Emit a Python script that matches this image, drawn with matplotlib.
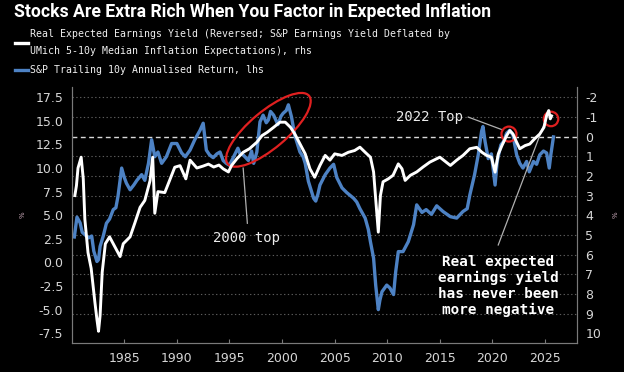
import matplotlib
matplotlib.use("Agg")
import matplotlib.pyplot as plt
import matplotlib.transforms as mtransforms
from matplotlib.patches import Ellipse
from matplotlib.lines import Line2D

# ---------------- data ----------------
blue_years = [1980.25, 1980.5, 1980.8, 1981.0, 1981.3, 1981.6, 1981.9, 1982.1, 1982.4, 1982.55,
              1982.7, 1983.0, 1983.3, 1983.6, 1983.95, 1984.2, 1984.4, 1984.75, 1985.0, 1985.2,
              1985.55, 1985.9, 1986.2, 1986.65, 1986.95, 1987.3, 1987.6, 1987.9, 1988.2, 1988.55,
              1989.0, 1989.5, 1990.0, 1990.45, 1990.8, 1991.25, 1991.7, 1992.2, 1992.5, 1992.8,
              1993.1, 1993.45, 1993.8, 1994.1, 1994.4, 1994.7, 1995.0, 1995.35, 1995.8, 1996.0,
              1996.3, 1996.8, 1997.1, 1997.3, 1997.6, 1997.9, 1998.2, 1998.5, 1998.7, 1998.9,
              1999.2, 1999.6, 1999.9, 2000.1, 2000.4, 2000.6, 2000.9, 2001.2, 2001.5, 2001.7,
              2002.0, 2002.2, 2002.5, 2002.8, 2003.0, 2003.2, 2003.4, 2003.6, 2004.1, 2004.55,
              2004.9, 2005.2, 2005.7, 2006.15, 2006.8, 2007.1, 2007.4, 2007.9, 2008.2, 2008.4,
              2008.7, 2008.9, 2009.15, 2009.3, 2009.5, 2009.95, 2010.25, 2010.6, 2010.8, 2011.05,
              2011.5, 2012.0, 2012.5, 2012.8, 2013.3, 2013.7, 2014.2, 2014.7, 2015.3, 2016.0,
              2016.6, 2017.2, 2017.6, 2017.85, 2018.3, 2018.65, 2018.97, 2019.1, 2019.3, 2019.6,
              2019.9, 2020.25, 2020.45, 2020.8, 2021.05, 2021.35, 2021.65, 2021.95, 2022.3, 2022.6,
              2022.9, 2023.25, 2023.5, 2023.9, 2024.2, 2024.5, 2024.85, 2025.15, 2025.4, 2025.55,
              2025.8]
blue_vals = [2.7, 4.8, 4.2, 3.2, 2.9, 2.6, 2.8, 1.2, 0.1, 0.3,
             1.7, 2.8, 4.15, 4.6, 5.6, 5.8, 7.0, 10.0, 9.0, 8.4,
             7.7, 8.2, 8.7, 9.3, 8.7, 10.5, 13.0, 11.2, 11.7, 10.5,
             11.2, 12.6, 12.6, 11.6, 11.2, 11.9, 13.0, 14.0, 14.75, 11.9,
             11.4, 11.1, 11.5, 11.7, 10.8, 10.5, 10.3, 11.1, 12.1, 11.5,
             11.4, 10.8, 11.8, 10.5, 11.7, 14.9, 15.6, 14.8, 15.1, 16.0,
             15.6, 14.6, 15.5, 15.8, 16.1, 16.7, 15.4, 13.5, 12.4, 11.7,
             11.2, 10.5, 8.6, 7.5, 6.8, 6.5, 7.2, 8.2, 9.3, 10.0,
             10.4, 9.0, 7.9, 7.4, 6.8, 6.4, 5.7, 4.7, 3.5, 2.2,
             0.45, -2.4, -5.0, -4.0, -3.1, -2.4, -2.7, -3.4, -1.0, 1.15,
             1.15, 2.2, 4.0, 6.1, 5.3, 5.6, 5.1, 6.0, 5.4, 4.85,
             4.7, 5.4, 5.7, 7.15, 9.3, 11.4, 13.9, 14.4, 12.8, 11.0,
             11.5, 8.2, 10.7, 12.45, 12.8, 13.7, 14.0, 13.5, 11.4, 10.5,
             10.0, 10.7, 9.6, 10.7, 10.4, 11.4, 11.8, 11.6, 10.0, 11.4,
             13.3]

white_years = [1980.3, 1980.45, 1980.6, 1980.9, 1981.1, 1981.25, 1981.55, 1981.85, 1982.2, 1982.4,
               1982.55, 1982.7, 1982.9, 1983.2, 1983.6, 1984.1, 1984.6, 1984.9, 1985.55, 1986.0,
               1986.5, 1986.95, 1987.45, 1987.7, 1987.9, 1988.2, 1988.85, 1989.3, 1989.8, 1990.3,
               1990.85, 1991.25, 1991.9, 1992.5, 1993.0, 1993.5, 1994.0, 1994.4, 1994.9,
               1995.2, 1995.7, 1996.3, 1996.9, 1997.6, 1998.1, 1998.6, 1999.2, 1999.8, 2000.3,
               2000.8, 2001.2, 2001.7, 2002.2, 2002.65, 2003.1, 2003.6, 2004.1, 2004.55, 2005.0,
               2005.7, 2006.3, 2006.9, 2007.4, 2007.9, 2008.4, 2008.7, 2008.9, 2009.15, 2009.35,
               2009.6, 2010.1, 2010.55, 2011.05, 2011.4, 2011.7, 2012.2, 2012.8, 2013.4, 2014.05,
               2015.0, 2016.0, 2016.6, 2017.2, 2017.85, 2018.5, 2019.0, 2019.45, 2019.9, 2020.25,
               2020.55, 2020.9, 2021.35, 2021.65, 2021.95, 2022.3, 2022.6, 2023.1, 2023.55, 2024.0,
               2024.5, 2024.9, 2025.15, 2025.35, 2025.5, 2025.62]
white_vals = [3.0, 2.5, 1.6, 1.05, 2.15, 4.2, 5.9, 6.7, 8.4, 9.3,
              9.9, 9.1, 6.9, 5.45, 5.1, 5.6, 6.1, 5.45, 5.1, 4.4,
              3.6, 3.25, 2.24, 1.05, 3.9, 2.8, 2.85, 2.24, 1.56, 1.48,
              2.15, 1.2, 1.6, 1.5, 1.4, 1.55, 1.45, 1.64, 1.8,
              1.47, 1.13, 0.8, 0.62, 0.29, -0.05, -0.22, -0.47, -0.73, -0.73,
              -0.47, -0.14, 0.37, 0.88, 1.64, 2.07, 1.47, 0.96, 1.2, 0.88,
              0.96, 0.8, 0.71, 0.54, 0.8, 1.05, 1.8, 3.17, 4.86, 3.0,
              2.3, 2.15, 1.97, 1.39, 1.64, 2.23, 1.97, 1.8, 1.55, 1.3,
              1.05, 1.47, 1.2, 0.96, 0.62, 0.55, 0.8, 0.96, 1.05, 1.81,
              0.9, 0.46, -0.05, -0.3, -0.13, 0.29, 0.62, 0.46, 0.38, 0.12,
              -0.13, -0.47, -1.07, -1.32, -0.9, -1.05]

x_ticks = [1985, 1990, 1995, 2000, 2005, 2010, 2015, 2020, 2025]
left_ticks = [-7.5, -5.0, -2.5, 0.0, 2.5, 5.0, 7.5, 10.0, 12.5, 15.0, 17.5]
right_ticks = list(range(-2, 11))

title = "Stocks Are Extra Rich When You Factor in Expected Inflation"
legend_white_1 = "Real Expected Earnings Yield (Reversed; S&P Earnings Yield Deflated by"
legend_white_2 = "UMich 5-10y Median Inflation Expectations), rhs"
legend_blue = "S&P Trailing 10y Annualised Return, lhs"

# ---------------- style ----------------
BG = "#000000"
BLUE = "#4d82c4"
WHITE = "#ffffff"
TICKC = "#d6d6d6"
SPINEC = "#7a7a7a"
MONO = ["DejaVu Sans Mono"]

fig = plt.figure(figsize=(6.24, 3.72), dpi=100, facecolor=BG)
ax = fig.add_axes([0.1149, 0.0788, 0.8098, 0.6874])
ax.set_facecolor(BG)
ax2 = ax.twinx()
ax2.patch.set_visible(False)

LMIN, LMAX = -8.5, 18.59
RTOP, RBOT = -2.52, 10.48
ax.set_xlim(1980.0, 2028.04)
ax.set_ylim(LMIN, LMAX)
ax2.set_ylim(RBOT, RTOP)

def r_to_l(r):
    return LMAX - (r - RTOP) * (LMAX - LMIN) / (RBOT - RTOP)

# grid at right-axis ticks, drawn on primary axis (behind lines)
ax.set_yticks([r_to_l(r) for r in right_ticks if r != 0], minor=True)
ax.grid(which="minor", axis="y", color="#5c5c5c", linestyle=(0, (1.2, 2.2)), linewidth=0.8)
ax.tick_params(axis="y", which="minor", length=0)
ax.axhline(r_to_l(0), color="#d8d8d8", linestyle=(0, (3.5, 2.5)), linewidth=1.0, zorder=1)

ax.plot(blue_years, blue_vals, color=BLUE, linewidth=2.4, solid_joinstyle="round", zorder=2)
ax2.plot(white_years, white_vals, color=WHITE, linewidth=2.1, solid_joinstyle="round", zorder=3)

ax.set_xticks(x_ticks)
ax.set_yticks(left_ticks)
ax.set_yticklabels([f"{v:.1f}" for v in left_ticks])
ax2.set_yticks(right_ticks)
ax2.set_yticklabels([str(v) for v in right_ticks])

for a in (ax, ax2):
    for s in a.spines.values():
        s.set_color(SPINEC)
        s.set_linewidth(0.8)
    a.spines["top"].set_visible(False)
ax.tick_params(axis="x", colors=TICKC, labelsize=9, length=3, direction="in", pad=7, color=SPINEC)
ax.tick_params(axis="y", which="major", colors=TICKC, labelsize=9, length=0, pad=6)
ax2.tick_params(axis="y", colors=TICKC, labelsize=9, length=0, pad=6)

ax.set_ylabel("%", color="#c9a9b9", fontsize=5, labelpad=7)
ax2.set_ylabel("%", color="#c9a9b9", fontsize=5, labelpad=8, rotation=90)

# ---------------- annotations ----------------
ANNC = "#b0b0b0"
etrans = fig.dpi_scale_trans + mtransforms.ScaledTranslation(1998.7, 14.05, ax.transData)
ax.add_patch(Ellipse((0, 0), width=1.06, height=0.37, angle=40, transform=etrans,
                     fill=False, edgecolor="#e02020", linewidth=1.6, zorder=5, clip_on=False))
for (cx, cy, d) in [(2021.57, 13.6, 0.15), (2025.57, 15.2, 0.145)]:
    ctrans = fig.dpi_scale_trans + mtransforms.ScaledTranslation(cx, cy, ax.transData)
    ax.add_patch(Ellipse((0, 0), width=d, height=d, transform=ctrans,
                         fill=False, edgecolor="#e02020", linewidth=1.6, zorder=5, clip_on=False))

ax.plot([1996.7, 1996.3], [4.15, 10.0], color=ANNC, linewidth=0.9, zorder=4)
ax.text(1996.63, 2.6, "2000 top", color="#ececec", fontsize=10, family=MONO,
        ha="center", va="center", zorder=6)

ax.plot([2017.7, 2020.97], [15.4, 14.04], color=ANNC, linewidth=0.9, zorder=4)
ax.text(2014.06, 15.45, "2022 Top", color="#ececec", fontsize=10, family=MONO,
        ha="center", va="center", zorder=6)

ax.plot([2020.55, 2025.3], [1.85, 15.8], color=ANNC, linewidth=0.9, zorder=4)
ax.text(2020.55, -2.49, "Real expected\nearnings yield\nhas never been\nmore negative",
        color="#ffffff", fontsize=10.3, family=MONO, fontweight="bold",
        ha="center", va="center", linespacing=1.15, zorder=6)

# ---------------- title & legend ----------------
fig.text(14 / 624, 1 - 12 / 372, title, color="white", fontsize=12.7, fontweight="bold",
         family=["Roboto", "DejaVu Sans"], ha="left", va="center")
fig.text(30 / 624, 1 - 34 / 372, legend_white_1, color="#f0f0f0", fontsize=7.1, family=MONO,
         ha="left", va="center")
fig.text(30 / 624, 1 - 50.7 / 372, legend_white_2, color="#f0f0f0", fontsize=7.1, family=MONO,
         ha="left", va="center")
fig.text(30 / 624, 1 - 70 / 372, legend_blue, color="#f0f0f0", fontsize=7.1, family=MONO,
         ha="left", va="center")
fig.add_artist(Line2D([15 / 624, 28 / 624], [1 - 42.5 / 372] * 2, color=WHITE, linewidth=2.4,
                      transform=fig.transFigure))
fig.add_artist(Line2D([15 / 624, 28 / 624], [1 - 70 / 372] * 2, color=BLUE, linewidth=2.4,
                      transform=fig.transFigure))

fig.savefig("out.png", dpi=100, facecolor=BG)
